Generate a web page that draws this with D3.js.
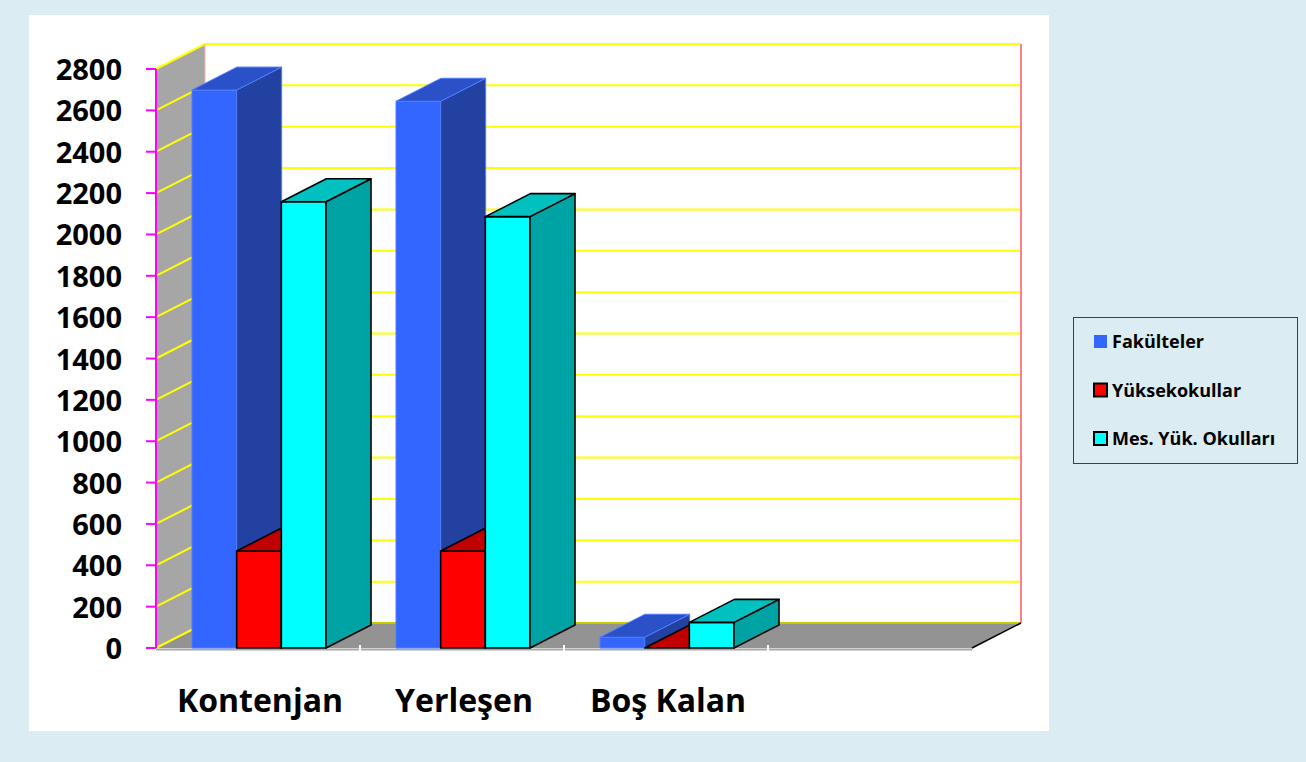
<!DOCTYPE html>
<html>
<head>
<meta charset="utf-8">
<script src="https://d3js.org/d3.v7.min.js"></script>
<style>
  body { margin: 0; background: #dbecf2; }
  text { font-family: "Open Sans", sans-serif; font-weight: bold; fill: #000; }
</style>
</head>
<body>
<svg width="1306" height="762"></svg>
<script>
// data
var categories = ["Kontenjan", "Yerleşen", "Boş Kalan", ""];
var seriesNames = ["Fakülteler", "Yüksekokullar", "Mes. Yük. Okulları"];
var fakulteler = [2698, 2644, 52, null];
var yuksekokullar = [469, 469, 0, null];
var mesYukOkullari = [2158, 2086, 124, null];
var yTickValues = [0, 200, 400, 600, 800, 1000, 1200, 1400, 1600, 1800, 2000, 2200, 2400, 2600, 2800];

var seriesValues = [fakulteler, yuksekokullar, mesYukOkullari];
var colors = [
  {front: "#3366ff", top: "#2a51c8", side: "#2241a0", stroke: "#4f7dff", sw: 1},
  {front: "#ff0000", top: "#c00000", side: "#a00000", stroke: "#000", sw: 1.6},
  {front: "#00ffff", top: "#00c0c0", side: "#00a3a3", stroke: "#000", sw: 1.6}
];

var svg = d3.select("svg");

// white panel
svg.append("rect").attr("x", 29).attr("y", 15).attr("width", 1020).attr("height", 716).attr("fill", "#fff");

var x = d3.scaleBand().domain(categories).range([156, 972]).padding(0);
var xs = d3.scaleBand().domain(seriesNames).range([36, 170]).padding(0);
var y = d3.scaleLinear().domain([0, 2800]).range([648, 69]);

var DX = 49, DY = -25;     // wall depth
var bdx = 45, bdy = -23;   // bar depth
var x0 = x.range()[0], x1 = x.range()[1];

// side wall
svg.append("polygon")
  .attr("points", [[x0, y(2800)], [x0 + DX, y(2800) + DY], [x0 + DX, y(0) + DY], [x0, y(0)]].join(" "))
  .attr("fill", "#a6a6a6");
// floor
svg.append("polygon")
  .attr("points", [[x0, y(0)], [x1, y(0)], [x1 + DX, y(0) + DY], [x0 + DX, y(0) + DY]].join(" "))
  .attr("fill", "#939393");

// gridlines on back wall and side wall
var grid = svg.append("g");
grid.selectAll(".gb").data(yTickValues).enter().append("line")
  .attr("x1", x0 + DX).attr("x2", x1 + DX)
  .attr("y1", function(d) { return y(d) + DY; }).attr("y2", function(d) { return y(d) + DY; })
  .attr("stroke", function(d) { return d === 0 ? "#c8c800" : "#ffff00"; }).attr("stroke-width", 2);
grid.selectAll(".gs").data(yTickValues).enter().append("line")
  .attr("x1", x0).attr("x2", x0 + DX)
  .attr("y1", function(d) { return y(d); }).attr("y2", function(d) { return y(d) + DY; })
  .attr("stroke", "#ffff00").attr("stroke-width", 2);

// wall edges
svg.append("line").attr("x1", x1 + DX).attr("x2", x1 + DX).attr("y1", y(2800) + DY).attr("y2", y(0) + DY)
  .attr("stroke", "#ff8080").attr("stroke-width", 2);
svg.append("line").attr("x1", x0 + DX).attr("x2", x0 + DX).attr("y1", y(2800) + DY).attr("y2", y(0) + DY)
  .attr("stroke", "#ffb0b0").attr("stroke-width", 1);
svg.append("line").attr("x1", x1).attr("y1", y(0)).attr("x2", x1 + DX).attr("y2", y(0) + DY)
  .attr("stroke", "#000").attr("stroke-width", 1.5);

// floor front edge
svg.append("line").attr("x1", x0).attr("x2", x1).attr("y1", y(0) + 1.5).attr("y2", y(0) + 1.5)
  .attr("stroke", "#a8a8a8").attr("stroke-width", 2);
svg.selectAll(".sep").data(categories.slice(1)).enter().append("line")
  .attr("x1", function(d) { return x(d); }).attr("x2", function(d) { return x(d); })
  .attr("y1", y(0) - 3).attr("y2", y(0) + 3)
  .attr("stroke", "#fff").attr("stroke-width", 2);

// bars
var bars = svg.append("g");
categories.forEach(function(cat, ci) {
  seriesNames.forEach(function(s, si) {
    var v = seriesValues[si][ci];
    if (v === null) return;
    var c = colors[si];
    var bx = x(cat) + xs(s), w = xs.bandwidth(), yt = y(v), yb = y(0);
    var g = bars.append("g").attr("stroke", c.stroke).attr("stroke-width", c.sw).attr("stroke-linejoin", "round");
    if (yb - yt > 0) {
      g.append("rect").attr("x", bx).attr("y", yt).attr("width", w).attr("height", yb - yt).attr("fill", c.front);
      g.append("polygon")
        .attr("points", [[bx + w, yt], [bx + w + bdx, yt + bdy], [bx + w + bdx, yb + bdy], [bx + w, yb]].join(" "))
        .attr("fill", c.side);
    }
    g.append("polygon")
      .attr("points", [[bx, yt], [bx + w, yt], [bx + w + bdx, yt + bdy], [bx + bdx, yt + bdy]].join(" "))
      .attr("fill", c.top);
  });
});

// y axis
svg.append("line").attr("x1", x0).attr("x2", x0).attr("y1", y(2800)).attr("y2", y(0))
  .attr("stroke", "#ff00ff").attr("stroke-width", 2);
svg.selectAll(".yt").data(yTickValues).enter().append("line")
  .attr("x1", x0 - 10).attr("x2", x0)
  .attr("y1", function(d) { return y(d); }).attr("y2", function(d) { return y(d); })
  .attr("stroke", "#ff00ff").attr("stroke-width", 2);
svg.selectAll(".yl").data(yTickValues).enter().append("text")
  .attr("x", 122).attr("y", function(d) { return y(d) + 11; })
  .attr("text-anchor", "end").style("font-size", "29px")
  .text(function(d) { return d; });

// category labels
svg.selectAll(".xl").data(categories).enter().append("text")
  .attr("x", function(d) { return x(d) + x.bandwidth() / 2 + 2; }).attr("y", 712)
  .attr("text-anchor", "middle").style("font-size", "32px")
  .text(function(d) { return d; });

// legend
var leg = svg.append("g");
leg.append("rect").attr("x", 1073.5).attr("y", 317.5).attr("width", 224).attr("height", 146)
  .attr("fill", "none").attr("stroke", "#404040").attr("stroke-width", 1);
seriesNames.forEach(function(s, i) {
  var cy = 342 + i * 48.5;
  leg.append("rect").attr("x", 1094).attr("y", cy - 7).attr("width", 13).attr("height", 13)
    .attr("fill", colors[i].front)
    .attr("stroke", i === 0 ? "none" : "#000").attr("stroke-width", 2);
  leg.append("text").attr("x", 1112).attr("y", cy + 6).style("font-size", "18px").text(s);
});
</script>
</body>
</html>
